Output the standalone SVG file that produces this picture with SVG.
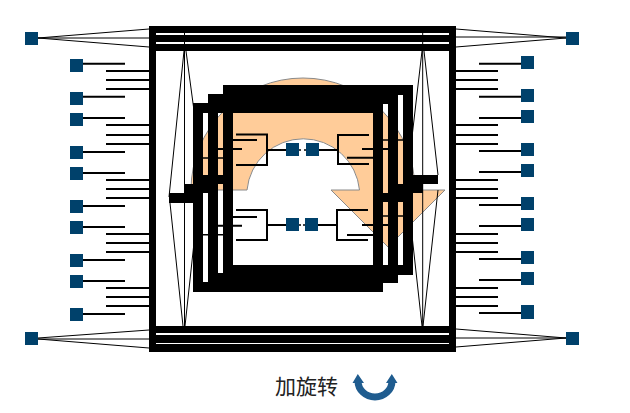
<svg xmlns="http://www.w3.org/2000/svg" width="630" height="413" viewBox="0 0 630 413">
<style>
.n{fill:#00416B}
.w{stroke:#000;stroke-width:2;fill:none}
.t{stroke:#000;stroke-width:1.5;fill:none}
.f{stroke:#000;stroke-width:1;fill:none}
.k{fill:#000}
.fr{stroke:#000;stroke-width:10;fill:none}
</style>
<rect width="630" height="413" fill="#fff"/>
<path id="rotation-arrow" d="M191 190A112 112 0 0 1 415 190H445L388 247L331 190H359.500A56.500 56.500 0 0 0 247 190Z" fill="#FFCC99" stroke="#8a8a8a" stroke-width="1"/>
<g id="connectors">
<path class="f" d="M38 38L149 29M38 38H149M38 38L149 47M38 338L149 330M38 339H149M38 339L149 348M456 29L566 38M456 37H566M456 47L566 38M456 329L566 338M456 338H566M456 347L566 338"/>
<path class="f" d="M184 51L169 197M170 203L183 326M186 51L197 133M197 215L185 326M422 51L407 180M407 190L422 326M424 51L438 175M438 190L423 326"/>
<path class="w" d="M83 63.700H125M83 96.700H125M83 118H125M83 152H125M83 173H125M83 206H125M83 227H125M83 260H125M83 281H125M83 314H125"/>
<path class="w" d="M106 71H149M106 80H149M106 89H149M106 125H149M106 135H149M106 144H149M106 180H149M106 189H149M106 198H149M106 234H149M106 243H149M106 252H149M106 288H149M106 297H149M106 306H149"/>
<path class="w" d="M479 63.700H521M479 96.700H521M479 118H521M479 151H521M479 172H521M479 205H521M479 226H521M479 259H521M479 280H521M479 313H521"/>
<path class="w" d="M456 71H498M456 80H498M456 89H498M456 125H498M456 135H498M456 144H498M456 180H498M456 189H498M456 198H498M456 234H498M456 243H498M456 252H498M456 288H498M456 297H498M456 306H498"/>
</g>
<g id="outer-frame">
<rect class="k" x="149" y="26" width="7" height="326"/>
<rect class="k" x="449" y="26" width="7" height="326"/>
<rect class="k" x="149" y="26" width="307" height="7"/>
<rect class="k" x="149" y="35" width="307" height="7"/>
<rect class="k" x="149" y="44" width="307" height="7"/>
<rect class="k" x="149" y="326" width="307" height="7"/>
<rect class="k" x="149" y="335" width="307" height="8"/>
<rect class="k" x="149" y="344" width="307" height="8"/>
</g>
<path class="f" d="M184.500 33V326M422.700 33V326"/>
<g id="inner-frames">
<rect class="fr" x="198" y="108" width="180" height="179"/>
<rect class="fr" x="213" y="99" width="180" height="179"/>
<rect class="fr" x="228" y="90" width="180" height="180"/>
<rect class="k" x="169" y="193" width="34" height="10"/>
<rect class="k" x="184" y="184" width="24" height="9"/>
<rect class="k" x="193" y="175" width="40" height="9"/>
<rect class="k" x="403" y="175" width="35" height="9"/>
<rect class="k" x="389" y="184" width="34" height="9"/>
<rect class="k" x="373" y="193" width="30" height="9"/>
</g>
<g id="brackets">
<path class="w" d="M236 134.500H267V165H236M267 150H286M369 135H338V164H369M338 150H319"/>
<path class="w" d="M236 210H267V240H236M267 225H286M368 210H337V240H368M337 225H318"/>
<path class="t" d="M299 150H301M304 150H306M299 225H301M303 225H305"/>
<path class="w" d="M233 140H257M218 149H242M362 149H389M347 157.700H373M233 217H257M218 225.700H242M362 225H389M347 235H373"/>
<path class="t" d="M203 158H233M383 140H403M203 234.700H233M383 216H403"/>
</g>
<g id="node-l1"><rect class="n" x="70" y="59" width="13" height="13"/></g>
<g id="node-l2"><rect class="n" x="70" y="92" width="13" height="13"/></g>
<g id="node-l3"><rect class="n" x="70" y="113" width="13" height="13"/></g>
<g id="node-l4"><rect class="n" x="70" y="146" width="13" height="13"/></g>
<g id="node-l5"><rect class="n" x="70" y="167" width="13" height="13"/></g>
<g id="node-l6"><rect class="n" x="70" y="200" width="13" height="13"/></g>
<g id="node-l7"><rect class="n" x="70" y="221" width="13" height="13"/></g>
<g id="node-l8"><rect class="n" x="70" y="254" width="13" height="13"/></g>
<g id="node-l9"><rect class="n" x="70" y="275" width="13" height="13"/></g>
<g id="node-l10"><rect class="n" x="70" y="308" width="13" height="13"/></g>
<g id="node-r1"><rect class="n" x="521" y="56" width="13" height="13"/></g>
<g id="node-r2"><rect class="n" x="521" y="89" width="13" height="13"/></g>
<g id="node-r3"><rect class="n" x="521" y="110" width="13" height="13"/></g>
<g id="node-r4"><rect class="n" x="521" y="143" width="13" height="13"/></g>
<g id="node-r5"><rect class="n" x="521" y="164" width="13" height="13"/></g>
<g id="node-r6"><rect class="n" x="521" y="197" width="13" height="13"/></g>
<g id="node-r7"><rect class="n" x="521" y="218" width="13" height="13"/></g>
<g id="node-r8"><rect class="n" x="521" y="251" width="13" height="13"/></g>
<g id="node-r9"><rect class="n" x="521" y="272" width="13" height="13"/></g>
<g id="node-r10"><rect class="n" x="521" y="305" width="13" height="14"/></g>
<g id="node-c1"><rect class="n" x="25" y="32" width="13" height="13"/></g>
<g id="node-c2"><rect class="n" x="25" y="332" width="13" height="13"/></g>
<g id="node-c3"><rect class="n" x="566" y="32" width="13" height="13"/></g>
<g id="node-c4"><rect class="n" x="566" y="332" width="13" height="13"/></g>
<g id="node-m1"><rect class="n" x="286" y="143" width="13" height="13"/></g>
<g id="node-m2"><rect class="n" x="306" y="143" width="13" height="13"/></g>
<g id="node-m3"><rect class="n" x="286" y="218" width="13" height="13"/></g>
<g id="node-m4"><rect class="n" x="305" y="218" width="13" height="13"/></g>
<g id="legend">
<text x="275" y="394" font-family="'Liberation Serif','Noto Sans CJK SC',serif" font-size="21" fill="#222">加旋转</text>
<path d="M358 381A17 16 0 0 0 392 381" fill="none" stroke="#1F5C8F" stroke-width="7"/>
<path d="M352.500 383L357.800 374L364 383ZM386 383L391.800 374L397.500 383Z" fill="#1F5C8F"/>
</g>
</svg>
